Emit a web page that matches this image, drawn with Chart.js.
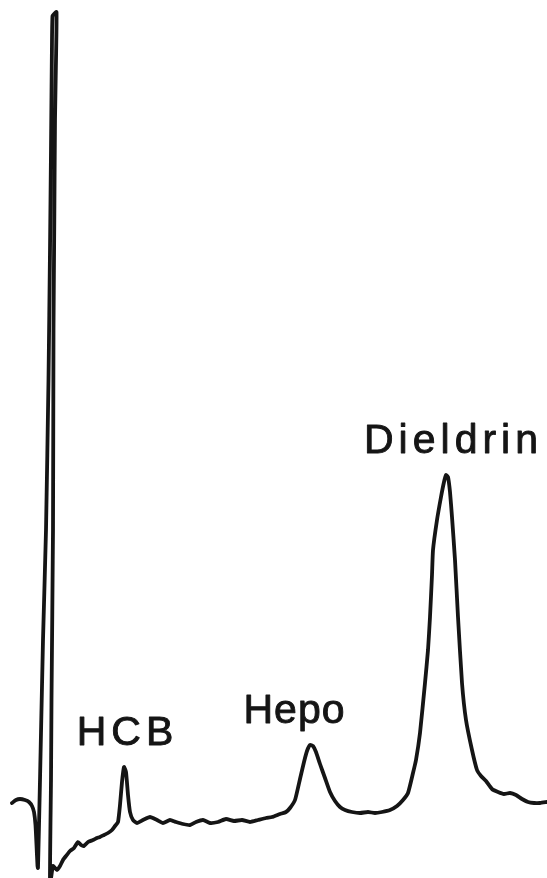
<!DOCTYPE html>
<html>
<head>
<meta charset="utf-8">
<script src="https://cdn.jsdelivr.net/npm/chart.js@4/dist/chart.umd.min.js"></script>
<style>
  html, body { margin: 0; padding: 0; background: #ffffff; }
  #wrap { width: 547px; height: 878px; position: relative; }
</style>
</head>
<body>
<div id="wrap"><canvas id="c"></canvas></div>
<script>
// Retention time (arbitrary units, left to right) and detector signal (arbitrary units)
const retentionTime = [
  12,16,20,25,29,32,34,35.5,36.5,37.5,38,
  40,43,46,48.5,50,51,52,52.5,54,56.5,
  56,55,54.3,53.5,53,51.5,51,50,
  53,57,60,63,66,70,74,78,81,84,88,93,97,100,104,108,112,115,118,
  120,122,124,126,128,130,133,137,143,150,157,163,170,176,183,190,196,203,210,218,226,234,242,250,258,266,272,280,286,290,
  295,300,304,307,310,313,316,320,325,330,335,340,345,352,360,368,375,382,390,397,403,408,413,416,420,425,428,430,432,433,
  437,441,444,446,448,450,452,455,458,462,466,472,477,481,486,492,498,504,510,516,522,528,534,540,547
];
const signal = [
  75,78,79,78,76,72,66,53,33,12,10,
  98,238,348,498,628,728,838,862,864,866,
  818,758,658,548,348,178,98,-7,
  12,8,12,18,22,27,30,36,33,32,36,38,40,41,43,45,48,52,56,
  73,96,111,106,83,66,58,55,58,61,58,55,58,56,54,53,56,58,55,56,59,57,58,56,58,60,61,64,66,70,
  78,99,116,127,133,132,126,114,100,86,77,71,68,66,65,66,65,66,68,72,78,85,105,118,145,195,228,261,303,328,
  358,381,396,403,401,386,361,318,261,195,158,128,108,102,97,89,86,84,85,83,79,76,75,75,76
];
// Peak labels and the retention time of the peak each one names
const peakNames = ["HCB", "Hepo", "Dieldrin"];
const peakTimes = [124, 310, 446];

const points = retentionTime.map((t, i) => ({ x: t, y: signal[i] }));

const labelPlugin = {
  id: 'peakLabels',
  afterDatasetsDraw(chart, args, opts) {
    const ctx = chart.ctx;
    const xs = chart.scales.x, ys = chart.scales.y;
    ctx.save();
    ctx.fillStyle = opts.color;
    ctx.strokeStyle = opts.color;
    ctx.lineWidth = opts.weight;
    ctx.lineJoin = 'round';
    ctx.font = opts.font;
    ctx.textBaseline = 'alphabetic';
    ctx.textAlign = 'left';
    peakNames.forEach((name, i) => {
      const sp = opts.spacing[i];
      ctx.letterSpacing = sp + 'px';
      const t = peakTimes[i];
      let top = -Infinity;
      retentionTime.forEach((rt, j) => { if (Math.abs(rt - t) <= 2) top = Math.max(top, signal[j]); });
      const px = xs.getPixelForValue(t) + opts.dx[i];
      const py = ys.getPixelForValue(top) - opts.gap;
      const w = ctx.measureText(name).width - sp;
      ctx.fillText(name, px - w / 2, py);
      ctx.strokeText(name, px - w / 2, py);
    });
    ctx.restore();
  }
};

new Chart(document.getElementById('c'), {
  type: 'line',
  data: {
    datasets: [{
      data: points,
      borderColor: '#151515',
      borderWidth: 3.8,
      pointRadius: 0,
      tension: 0.15,
      fill: false,
      clip: false,
      borderJoinStyle: 'round',
      borderCapStyle: 'round'
    }]
  },
  options: {
    responsive: true,
    maintainAspectRatio: false,
    animation: false,
    layout: { padding: 0 },
    plugins: {
      legend: { display: false },
      tooltip: { enabled: false },
      peakLabels: {
        color: '#151515',
        font: '41px "Liberation Sans", Arial, sans-serif',
        weight: 0.9,
        spacing: [5, 1, 5],
        gap: 22,
        dx: [1, -16, 5]
      }
    },
    scales: {
      x: { type: 'linear', min: 0, max: 547, display: false },
      y: { type: 'linear', min: 0, max: 878, display: false }
    }
  },
  plugins: [labelPlugin]
});
</script>
</body>
</html>
